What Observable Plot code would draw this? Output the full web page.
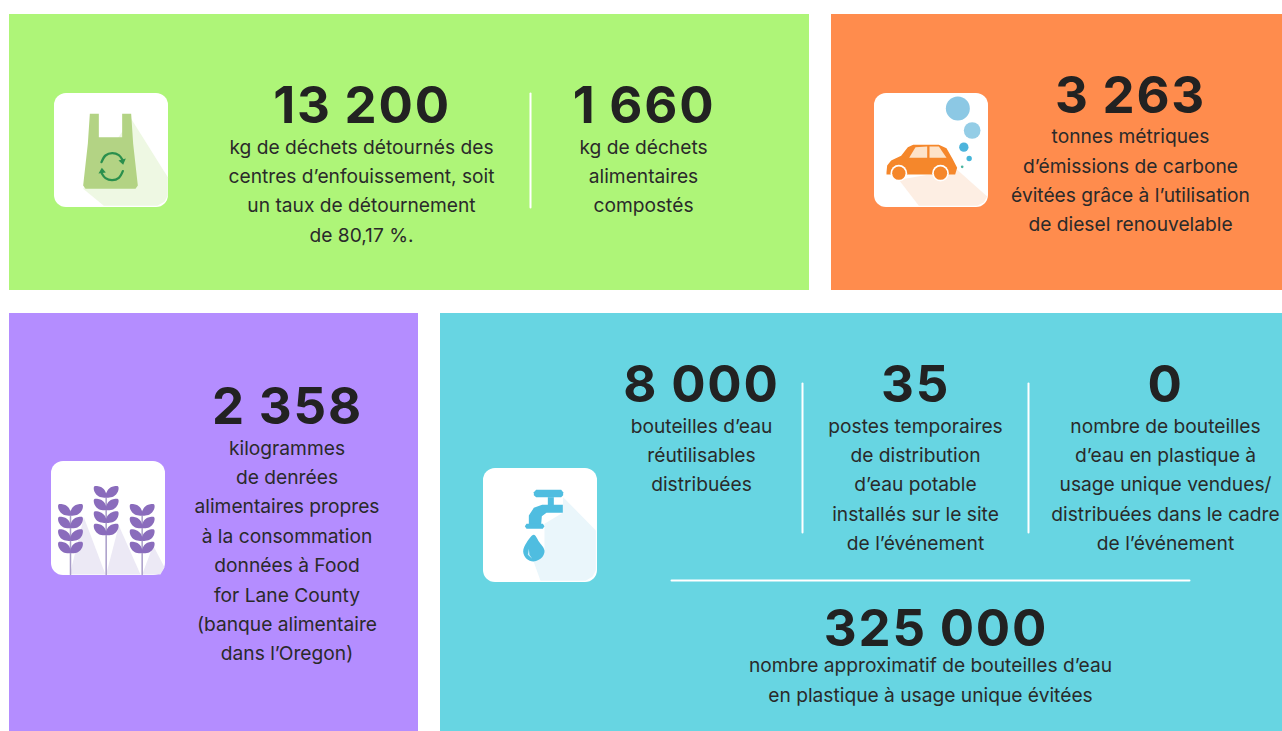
<!DOCTYPE html>
<html lang="fr">
<head>
<meta charset="utf-8">
<script src="https://cdn.jsdelivr.net/npm/d3@7"></script>
<script src="https://cdn.jsdelivr.net/npm/@observablehq/plot@0.6"></script>
<style>
  html, body { margin: 0; padding: 0; background: #fff; }
  svg { display: block; }
  .figure text { letter-spacing: 1.8px; word-spacing: -1px; }
</style>
</head>
<body>
<div id="chart"></div>
<script>
// ---- Content -------------------------------------------------------------
const figures = ["13 200", "1 660", "3 263", "2 358", "8 000", "35", "0", "325 000"];
const captions = [
  ["kg de déchets détournés des", "centres d’enfouissement, soit", "un taux de détournement", "de 80,17 %."],
  ["kg de déchets", "alimentaires", "compostés"],
  ["tonnes métriques", "d’émissions de carbone", "évitées grâce à l’utilisation", "de diesel renouvelable"],
  ["kilogrammes", "de denrées", "alimentaires propres", "à la consommation", "données à Food", "for Lane County", "(banque alimentaire", "dans l’Oregon)"],
  ["bouteilles d’eau", "réutilisables", "distribuées"],
  ["postes temporaires", "de distribution", "d’eau potable", "installés sur le site", "de l’événement"],
  ["nombre de bouteilles", "d’eau en plastique à", "usage unique vendues/", "distribuées dans le cadre", "de l’événement"],
  ["nombre approximatif de bouteilles d’eau", "en plastique à usage unique évitées"]
];

// ---- Layout (page pixels) ------------------------------------------------
const panelX1 = [9, 831, 9, 440];
const panelX2 = [809, 1282, 418, 1282];
const panelY1 = [14, 14, 313, 313];
const panelY2 = [290, 290, 731, 731];
const panelFill = ["#aef578", "#ff8c4d", "#b48dff", "#67d5e2"];

const figureX = [361.5, 643.5, 1130, 287, 701, 915, 1165, 935.5];
const captionX = [361, 643, 1130, 286.5, 701, 915, 1165, 930];
const figureY = [106, 106, 96, 407, 385, 385, 385, 629];
const captionY = [147, 147, 136.5, 448, 426, 426, 426, 665.5];
const lineStep = 29.4;

const dividers = [
  [[530, 93], [530, 207]],
  [[802, 383], [802, 532]],
  [[1028, 383], [1028, 532]],
  [[671, 580], [1189, 580]]
];
const tiles = [[54, 93], [874, 93], [51, 461], [483, 468]];
const tileSize = 114;

const figureRows = figures.map((t, i) => ({t, x: figureX[i], y: figureY[i]}));
const captionRows = captions.flatMap((lines, i) =>
  lines.map((t, k) => ({t, x: captionX[i], y: captionY[i] + k * lineStep})));
const panelRows = panelFill.map((fill, i) => ({x1: panelX1[i], x2: panelX2[i], y1: panelY1[i], y2: panelY2[i], fill}));

// ---- Icon helpers: geometry is given in 3x-crop pixels -------------------
const at = (ox, oy) => ([a, b]) => [ox + a / 3, oy + b / 3];
const poly = (ox, oy, pts, fill, curve = "linear") =>
  Plot.line(pts.map(at(ox, oy)), {x: d => d[0], y: d => d[1], fill, stroke: "none", curve});
const stroke = (ox, oy, pts, color, width, curve = "linear") =>
  Plot.line(pts.map(at(ox, oy)), {x: d => d[0], y: d => d[1], stroke: color, strokeWidth: width, curve, strokeLinecap: "round"});
const disc = (ox, oy, a, b, r, fill) =>
  Plot.dot([at(ox, oy)([a, b])], {x: d => d[0], y: d => d[1], r: r / 3, fill, stroke: "none"});

// Bag
const B = [40, 80];
const bagIcon = [
  poly(...B, [[272, 115], [382, 290], [382, 345], [372, 364], [350, 376], [190, 376], [128, 325]], "#eef8e3"),
  poly(...B, [[148, 100], [175, 100], [175, 170], [245, 170], [245, 100], [272, 100], [278, 190], [292, 315], [285, 325], [135, 325], [128, 315], [142, 190]], "#b3d384"),
  stroke(...B, [[183, 245], [195, 225], [215, 218], [235, 224], [246, 238]], "#2a8f4d", 2.3, "catmull-rom"),
  stroke(...B, [[247, 272], [235, 292], [215, 299], [195, 293], [184, 279]], "#2a8f4d", 2.3, "catmull-rom"),
  poly(...B, [[256, 234], [234, 240], [248, 253]], "#2a8f4d"),
  poly(...B, [[174, 279], [196, 276], [184, 262]], "#2a8f4d")
];

// Car
const C = [860, 80];
const carIcon = [
  poly(...C, [[115, 298], [290, 268], [380, 348], [370, 366], [350, 376], [175, 376]], "#fdeee3"),
  poly(...C, [[78, 275], [80, 255], [92, 240], [122, 226], [142, 200], [158, 193], [235, 193], [258, 203], [276, 235], [290, 262], [284, 282], [78, 282]], "#f5872b"),
  poly(...C, [[146, 232], [165, 200], [200, 198], [200, 232]], "#fde3c9"),
  poly(...C, [[207, 198], [235, 198], [258, 232], [207, 232]], "#fde3c9"),
  disc(...C, 115, 278, 25, "#fff"),
  disc(...C, 240, 278, 25, "#fff"),
  disc(...C, 115, 278, 20, "#f5872b"),
  disc(...C, 240, 278, 20, "#f5872b"),
  disc(...C, 292, 84, 36, "#8cc8e4"),
  disc(...C, 335, 150, 25, "#94cde6"),
  disc(...C, 310, 200, 14, "#4db4dc"),
  disc(...C, 326, 234, 8, "#45b5d9"),
  disc(...C, 305, 259, 4, "#4bb5a0")
];

// Wheat
const W = [40, 450];
const stalkX = [90, 197, 305];
const stalkTop = [172, 118, 172];
const leafRows = [0, 38, 76, 113];
const leftLeaf = [[0, 22], [-22, 20], [-35, 6], [-36, -10], [-18, -9], [-4, 2]];
const wheatIcon = [
  poly(...W, [[130, 200], [195, 372], [88, 372]], "#ece9f5"),
  poly(...W, [[235, 225], [300, 372], [197, 372]], "#ece9f5"),
  poly(...W, [[338, 285], [372, 350], [360, 372], [305, 372]], "#ece9f5"),
  ...stalkX.map((sx, i) => stroke(...W, [[sx, stalkTop[i] + 10], [sx, 372]], "#a89cc8", 1.5)),
  ...stalkX.flatMap((sx, i) => leafRows.flatMap(dy => [-1, 1].map(side =>
    poly(...W, leftLeaf.map(([a, b]) => [sx + side * a, stalkTop[i] + dy + b]), "#8a6cbc", "catmull-rom-closed")))),
];

// Tap
const T = [470, 455];
const tapColor = "#4fbde0";
const tapIcon = [
  poly(...T, [[278, 125], [376, 225], [376, 345], [366, 364], [345, 376], [210, 376], [190, 320], [222, 285], [222, 205], [277, 172]], "#eaf6fb"),
  poly(...T, [[197, 103], [272, 103], [278, 110], [278, 119], [272, 125], [197, 125], [190, 119], [190, 110]], tapColor),
  poly(...T, [[232, 125], [250, 125], [250, 150], [232, 150]], tapColor),
  poly(...T, [[277, 148], [277, 172], [228, 172], [214, 182], [212, 206], [175, 206], [175, 180], [190, 157], [215, 148]], tapColor),
  poly(...T, [[168, 205], [217, 205], [222, 212], [217, 220], [168, 220], [163, 212]], tapColor),
  poly(...T, [[190, 238], [205, 258], [222, 285], [215, 305], [190, 318], [168, 310], [158, 288], [168, 262]], tapColor, "catmull-rom-closed"),
  poly(...T, [[175, 280], [172, 298], [185, 310], [177, 298]], "#cfeef7")
];

// ---- Plot ----------------------------------------------------------------
const chart = Plot.plot({
  width: 1282,
  height: 731,
  margin: 0,
  x: {domain: [0, 1282], range: [0, 1282], axis: null},
  y: {domain: [0, 731], range: [0, 731], axis: null},
  style: {background: "#fff"},
  marks: [
    Plot.rect(panelRows, {x1: "x1", x2: "x2", y1: "y1", y2: "y2", fill: "fill"}),
    ...dividers.map(seg => Plot.line(seg, {x: d => d[0], y: d => d[1], stroke: "#fff", strokeWidth: 2})),
    Plot.rect(tiles, {x1: d => d[0], x2: d => d[0] + tileSize, y1: d => d[1], y2: d => d[1] + tileSize, fill: "#fff", rx: 12, ry: 12}),
    ...bagIcon, ...carIcon, ...wheatIcon, ...tapIcon,
    Plot.text(figureRows, {x: "x", y: "y", text: "t", fill: "#222222", fontFamily: "Inter", fontWeight: 700, fontSize: 51, textAnchor: "middle", lineAnchor: "middle", className: "figure"}),
    Plot.text(captionRows, {x: "x", y: "y", text: "t", fill: "#2a2a2a", fontFamily: "Inter", fontWeight: 400, fontSize: 19.2, textAnchor: "middle", lineAnchor: "middle"})
  ]
});
document.getElementById("chart").append(chart);
</script>
</body>
</html>
